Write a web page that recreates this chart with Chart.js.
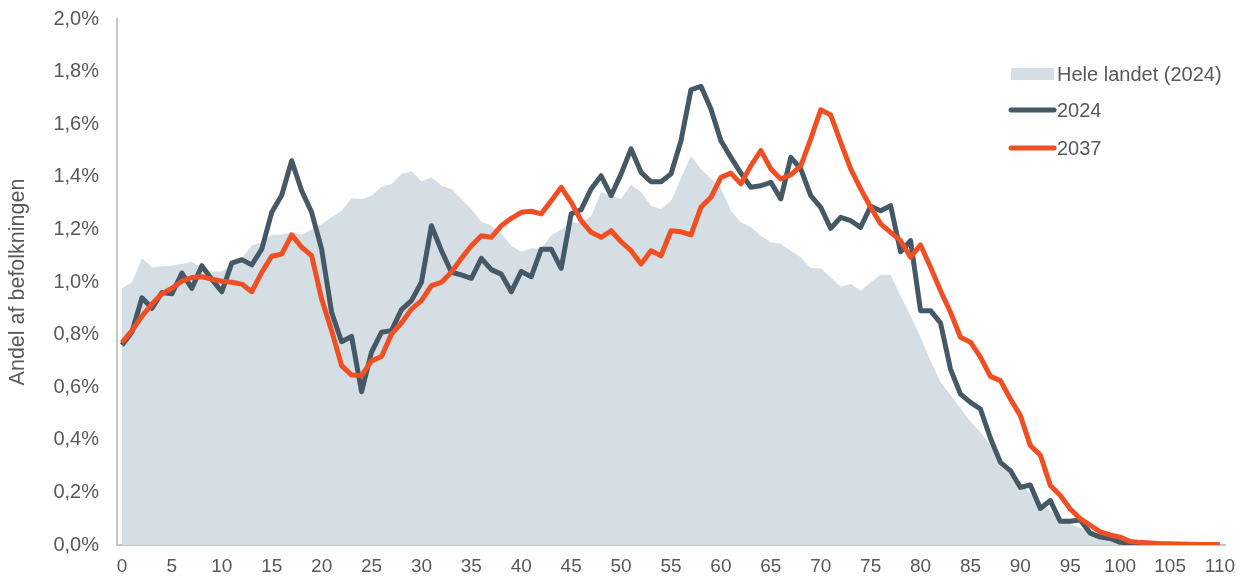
<!DOCTYPE html>
<html>
<head>
<meta charset="utf-8">
<script src="https://cdn.jsdelivr.net/npm/chart.js@4/dist/chart.umd.min.js"></script>
<style>
  html, body { margin: 0; padding: 0; background: #fff; }
  #wrap { width: 1257px; height: 579px; position: relative; }
</style>
</head>
<body>
<div id="wrap"><canvas id="aldersfordeling"></canvas></div>
<script>
// alder 0..110
const ages = Array.from({length: 111}, (_, i) => String(i));

// andel af befolkningen i %, hele landet 2024 (grå flade)
const heleLandet = [
  0.976, 0.998, 1.09, 1.056, 1.06, 1.062, 1.068, 1.077, 1.05, 1.04,
  1.04, 1.07, 1.09, 1.14, 1.15, 1.18, 1.18, 1.19, 1.18, 1.20,
  1.22, 1.246, 1.271, 1.318, 1.316, 1.328, 1.362, 1.373, 1.411, 1.421,
  1.383, 1.398, 1.366, 1.354, 1.316, 1.278, 1.229, 1.214, 1.183, 1.138,
  1.115, 1.128, 1.125, 1.179, 1.199, 1.227, 1.224, 1.252, 1.341, 1.328,
  1.316, 1.369, 1.343, 1.29, 1.278, 1.309, 1.394, 1.48, 1.43, 1.394,
  1.356, 1.271, 1.227, 1.208, 1.176, 1.151, 1.145, 1.119, 1.094, 1.052,
  1.052, 1.018, 0.982, 0.992, 0.967, 0.999, 1.028, 1.028, 0.948, 0.872,
  0.79, 0.70, 0.62, 0.57, 0.52, 0.47, 0.43, 0.38, 0.33, 0.28,
  0.235, 0.195, 0.16, 0.13, 0.10, 0.08, 0.065, 0.05, 0.035, 0.025,
  0.017, 0.01, 0.007, 0.005, 0.003, 0.002, 0.001, 0.001, 0, 0,
  0
];

// kommunen 2024
const andel2024 = [
  0.76, 0.81, 0.94, 0.90, 0.96, 0.955, 1.034, 0.976, 1.062, 1.01,
  0.963, 1.072, 1.085, 1.065, 1.125, 1.265, 1.33, 1.461, 1.347, 1.265,
  1.125, 0.885, 0.773, 0.793, 0.583, 0.733, 0.809, 0.815, 0.895, 0.929,
  0.999, 1.214, 1.12, 1.037, 1.027, 1.014, 1.09, 1.047, 1.03, 0.963,
  1.04, 1.02, 1.125, 1.125, 1.052, 1.259, 1.275, 1.354, 1.404, 1.328,
  1.411, 1.506, 1.417, 1.381, 1.381, 1.411, 1.537, 1.731, 1.744, 1.658,
  1.537, 1.474, 1.414, 1.36, 1.366, 1.379, 1.316, 1.474, 1.43, 1.328,
  1.284, 1.204, 1.246, 1.233, 1.208, 1.288, 1.271, 1.29, 1.115, 1.157,
  0.891, 0.891, 0.844, 0.669, 0.574, 0.542, 0.517, 0.406, 0.314, 0.283,
  0.219, 0.228, 0.139, 0.169, 0.09, 0.09, 0.095, 0.045, 0.03, 0.025,
  0.01, 0.008, 0.006, 0.004, 0.003, 0.002, 0.001, 0.001, 0.001, 0,
  0
];

// kommunen 2037 (fremskrivning)
const andel2037 = [
  0.77, 0.815, 0.87, 0.916, 0.955, 0.976, 1.003, 1.017, 1.02, 1.011,
  1.003, 0.999, 0.992, 0.963, 1.037, 1.098, 1.106, 1.179, 1.132, 1.10,
  0.935, 0.815, 0.682, 0.646, 0.644, 0.70, 0.717, 0.802, 0.844, 0.897,
  0.929, 0.986, 0.999, 1.037, 1.09, 1.138, 1.176, 1.17, 1.214, 1.242,
  1.265, 1.269, 1.259, 1.309, 1.36, 1.303, 1.233, 1.189, 1.17, 1.195,
  1.153, 1.119, 1.068, 1.119, 1.10, 1.195, 1.191, 1.179, 1.284, 1.322,
  1.398, 1.414, 1.373, 1.442, 1.50, 1.43, 1.392, 1.407, 1.442, 1.544,
  1.655, 1.635, 1.531, 1.43, 1.354, 1.284, 1.221, 1.189, 1.157, 1.094,
  1.141, 1.056, 0.967, 0.885, 0.79, 0.771, 0.714, 0.641, 0.625, 0.555,
  0.492, 0.378, 0.342, 0.226, 0.188, 0.137, 0.10, 0.075, 0.05, 0.038,
  0.03, 0.013, 0.01, 0.008, 0.006, 0.005, 0.004, 0.003, 0.002, 0.002,
  0.001
];

const yTicks = [0, 0.2, 0.4, 0.6, 0.8, 1.0, 1.2, 1.4, 1.6, 1.8, 2.0];

const textColor = '#595959';
const axisColor = '#c6c6c6';
const fontFamily = '"Liberation Sans", Arial, sans-serif';

// Legenden ligger inde i plotområdet oppe til højre
const insideLegend = {
  id: 'insideLegend',
  afterDraw(chart) {
    const ctx = chart.ctx;
    const x0 = chart.chartArea.right - 216;
    const rows = [74, 110, 148];
    ctx.save();
    ctx.font = '20px ' + fontFamily;
    ctx.textBaseline = 'middle';
    chart.data.datasets.forEach((ds, i) => {
      const y = rows[i];
      if (ds.fill) {
        ctx.fillStyle = ds.backgroundColor;
        ctx.fillRect(x0 + 2, y - 6, 43, 12);
      } else {
        ctx.strokeStyle = ds.borderColor;
        ctx.lineWidth = ds.borderWidth;
        ctx.lineCap = 'round';
        ctx.beginPath();
        ctx.moveTo(x0 + 2, y);
        ctx.lineTo(x0 + 45, y);
        ctx.stroke();
      }
      ctx.fillStyle = textColor;
      ctx.fillText(ds.label, x0 + 48, y + 1);
    });
    ctx.restore();
  }
};

const ctx = document.getElementById('aldersfordeling');

new Chart(ctx, {
  type: 'line',
  data: {
    labels: ages,
    datasets: [
      {
        label: 'Hele landet (2024)',
        data: heleLandet,
        fill: 'origin',
        backgroundColor: '#d6dee5',
        borderWidth: 0,
        pointRadius: 0,
        order: 3
      },
      {
        label: '2024',
        data: andel2024,
        fill: false,
        borderColor: '#445865',
        borderWidth: 5,
        borderJoinStyle: 'round',
        pointRadius: 0,
        order: 2
      },
      {
        label: '2037',
        data: andel2037,
        fill: false,
        borderColor: '#f04f23',
        borderWidth: 5,
        borderJoinStyle: 'round',
        pointRadius: 0,
        order: 1
      }
    ]
  },
  options: {
    responsive: true,
    maintainAspectRatio: false,
    animation: false,
    layout: {
      padding: { top: 19, right: 32, left: 0, bottom: 0 }
    },
    plugins: {
      legend: { display: false },
      tooltip: { enabled: false }
    },
    scales: {
      x: {
        type: 'category',
        offset: true,
        grid: { display: false, drawTicks: false },
        border: { display: true, color: axisColor, width: 2 },
        ticks: {
          autoSkip: false,
          maxRotation: 0,
          padding: 10,
          color: textColor,
          font: { family: fontFamily, size: 19 },
          callback: function (val, idx) {
            return idx % 5 === 0 ? ages[idx] : '';
          }
        },
        afterFit(scale) {
          scale.height = 34;
          scale.paddingLeft = 0;
          scale.paddingRight = 0;
        }
      },
      y: {
        min: 0,
        max: 2.0,
        afterBuildTicks(scale) {
          scale.ticks = yTicks.map(v => ({ value: v }));
        },
        grid: { display: false, drawTicks: false },
        border: { display: true, color: axisColor, width: 2 },
        ticks: {
          padding: 18,
          color: textColor,
          font: { family: fontFamily, size: 20 },
          callback: v => v.toFixed(1).replace('.', ',') + '%'
        },
        title: {
          display: true,
          text: 'Andel af befolkningen',
          color: textColor,
          font: { family: fontFamily, size: 21.5 },
          padding: { top: 5, bottom: 0 }
        },
        afterFit(scale) {
          scale.width = 117;
          scale.paddingTop = 0;
          scale.paddingBottom = 0;
        }
      }
    }
  },
  plugins: [insideLegend]
});
</script>
</body>
</html>
